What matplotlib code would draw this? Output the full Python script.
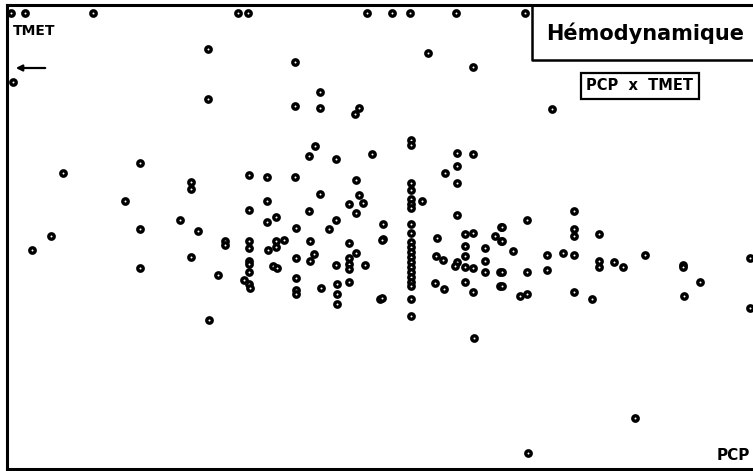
import matplotlib
matplotlib.use("Agg")
import matplotlib.pyplot as plt
import numpy as np

# PCP (horizontal) and TMET (vertical, read downward from the top of the frame)
pcp = [
    11, 25, 93, 238, 248, 367, 392, 410, 456, 525,
    13, 208, 208, 428, 295, 473, 320, 295, 320, 359, 355, 552,
    411, 411, 315, 309, 336, 372, 457, 473,
    140, 63, 249, 191, 191, 125, 249, 180, 51, 140, 198, 225, 225,
    249, 249, 32, 191, 249, 249, 249, 140, 218, 244, 249, 250, 209,
    267, 295, 356, 411, 411, 445, 457, 457, 320, 359, 363, 349,
    411, 411, 411, 422, 267, 309, 356, 457, 276, 267, 336, 383,
    296, 329, 411, 411, 501, 437, 465, 473, 495, 501,
    276, 284, 276, 310, 349, 383, 268, 465, 485, 356, 314, 296,
    349, 310, 436, 443, 457, 455, 465, 465, 473, 485, 485, 500,
    273, 277, 336, 349, 349, 365, 296, 349, 321, 337, 337, 296, 296,
    435, 444, 465, 473, 500, 380, 337, 411, 411,
    411, 411, 411, 411, 411, 411, 411, 411, 411, 411,
    574, 527, 502, 574, 574, 599, 502, 513, 547, 563, 574, 645,
    599, 599, 614, 623, 683, 683, 750, 502, 527, 547, 502, 520, 527,
    574, 592, 700, 684, 750, 474, 528, 635, 382, 382,
]
tmet = [
    13, 13, 13, 13, 13, 13, 13, 13, 13, 13,
    82, 49, 99, 53, 62, 67, 92, 106, 108, 108, 114, 109,
    140, 145, 146, 156, 159, 154, 153, 154,
    163, 173, 175, 182, 189, 201, 210, 220, 236, 229, 231, 241, 245,
    241, 248, 250, 257, 261, 264, 272, 268, 275, 280, 284, 288, 320,
    177, 177, 180, 183, 190, 173, 166, 183, 194, 195, 203, 204,
    199, 204, 208, 201, 201, 211, 213, 215, 217, 222, 220, 224,
    228, 229, 224, 233, 227, 238, 234, 233, 236, 241,
    241, 240, 247, 241, 243, 239, 250, 246, 248, 253, 254, 258,
    258, 261, 256, 260, 262, 266, 256, 267, 268, 261, 272, 272,
    266, 268, 265, 264, 269, 265, 278, 282, 288, 284, 294, 290, 294,
    283, 289, 282, 292, 286, 299, 304, 299, 316,
    242, 247, 252, 257, 262, 267, 272, 277, 282, 286,
    211, 220, 227, 229, 236, 234, 241, 251, 255, 253, 255, 255,
    261, 267, 262, 267, 265, 267, 258, 272, 272, 270, 286, 296, 294,
    292, 299, 282, 296, 308, 338, 453, 418, 240, 298,
]

fig = plt.figure(figsize=(7.53, 4.71), dpi=100)
ax = fig.add_axes([0, 0, 1, 1])
ax.set_xlim(0, 753)
ax.set_ylim(471, 0)
ax.axis("off")

ax.plot(pcp, tmet, linestyle="none", marker="o", markersize=3.9,
        markerfacecolor="white", markeredgecolor="black", markeredgewidth=2.4,
        clip_on=False, zorder=3)

# frame (left, top, bottom)
ax.plot([7, 7], [5, 469], color="black", lw=2.2, zorder=2)
ax.plot([7, 753], [5, 5], color="black", lw=2.2, zorder=2)
ax.plot([7, 753], [469, 469], color="black", lw=2.2, zorder=2)

# title box
ax.plot([532, 532, 753], [5, 60, 60], color="black", lw=1.8, zorder=4)
ax.text(645, 33, "Hémodynamique", fontsize=15, fontweight="bold",
        ha="center", va="center", zorder=5)

ax.text(640, 86, "PCP  x  TMET", fontsize=10.5, fontweight="bold",
        ha="center", va="center", zorder=5,
        bbox=dict(boxstyle="square,pad=0.35", facecolor="white",
                  edgecolor="black", linewidth=1.6))

ax.text(13, 31, "TMET", fontsize=10, fontweight="bold", ha="left", va="center")
ax.annotate("", xy=(13, 68), xytext=(48, 68),
            arrowprops=dict(arrowstyle="-|>", color="black", lw=1.6,
                            mutation_scale=9))
ax.text(750, 455, "PCP", fontsize=11, fontweight="bold", ha="right", va="center")

fig.savefig("out.png", dpi=100)
